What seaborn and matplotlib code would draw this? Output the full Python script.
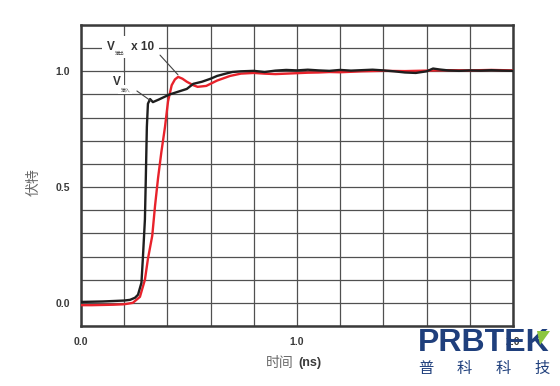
import numpy as np
import pandas as pd
import matplotlib
matplotlib.use("Agg")
import matplotlib.pyplot as plt
import seaborn as sns
from matplotlib.patches import Polygon

# time in ns, amplitude in volts (normalised)
t_in = [0.00, 0.05, 0.10, 0.15, 0.20, 0.227, 0.25, 0.264, 0.28, 0.287, 0.296, 0.30,
        0.305, 0.31, 0.32, 0.333, 0.36, 0.41, 0.45, 0.49, 0.52, 0.56, 0.60, 0.63,
        0.67, 0.70, 0.74, 0.80, 0.85, 0.90, 0.95, 1.00, 1.05, 1.10, 1.15, 1.20,
        1.25, 1.30, 1.35, 1.40, 1.45, 1.50, 1.55, 1.60, 1.63, 1.66, 1.70, 1.75,
        1.80, 1.85, 1.90, 1.95, 2.00]
v_in = [0.004, 0.005, 0.006, 0.008, 0.010, 0.013, 0.022, 0.035, 0.087, 0.20, 0.36, 0.53,
        0.76, 0.86, 0.88, 0.867, 0.878, 0.90, 0.912, 0.924, 0.946, 0.955, 0.968, 0.98,
        0.99, 0.997, 1.0, 1.002, 0.997, 1.003, 1.006, 1.004, 1.007, 1.004, 1.002, 1.006,
        1.003, 1.005, 1.007, 1.004, 1.0, 0.995, 0.993, 1.0, 1.012, 1.008, 1.004, 1.002,
        1.004, 1.003, 1.005, 1.003, 1.002]

t_out = [0.00, 0.05, 0.10, 0.15, 0.20, 0.24, 0.273, 0.296, 0.31, 0.33, 0.343, 0.357,
         0.372, 0.389, 0.403, 0.42, 0.435, 0.45, 0.47, 0.49, 0.52, 0.54, 0.58, 0.63,
         0.69, 0.74, 0.80, 0.85, 0.90, 0.95, 1.00, 1.05, 1.10, 1.15, 1.20, 1.25,
         1.30, 1.40, 1.50, 1.60, 1.70, 1.80, 1.90, 2.00]
v_out = [-0.010, -0.010, -0.009, -0.008, -0.006, 0.0, 0.026, 0.10, 0.19, 0.29, 0.42, 0.54,
         0.65, 0.76, 0.87, 0.94, 0.965, 0.976, 0.968, 0.955, 0.94, 0.933, 0.937, 0.96,
         0.98, 0.99, 0.993, 0.99, 0.988, 0.99, 0.992, 0.994, 0.995, 0.997, 0.996, 0.998,
         1.0, 1.002, 1.001, 1.003, 1.005, 1.004, 1.006, 1.004]

x_labels = {0.0: "0.0", 1.0: "1.0", 2.0: "2.0"}
y_labels = {0.0: "0.0", 0.5: "0.5", 1.0: "1.0"}
logo_chars = ["普", "科", "科", "技"]

sns.set_style("white")
plt.rcParams['font.family'] = ['Liberation Sans', 'Noto Sans CJK SC', 'DejaVu Sans']

fig = plt.figure(figsize=(5.6, 3.86), dpi=100)
ax = fig.add_axes([0.1446, 0.1554, 0.7714, 0.7798])

df_in = pd.DataFrame({"t": t_in, "v": v_in})
df_out = pd.DataFrame({"t": t_out, "v": v_out})
sns.lineplot(data=df_out, x="t", y="v", color="#e8222b", lw=1.7, ax=ax, zorder=3)
sns.lineplot(data=df_in, x="t", y="v", color="#1e1e1e", lw=1.7, ax=ax, zorder=4)

ax.set_xlim(0, 2.0)
ax.set_ylim(-0.1, 1.2)
xt = np.round(np.arange(0, 2.01, 0.2), 1)
yt = np.round(np.arange(-0.1, 1.21, 0.1), 1)
ax.set_xticks(xt)
ax.set_yticks(yt)
ax.set_xticklabels([x_labels.get(v, "") for v in xt])
ax.set_yticklabels([y_labels.get(v, "") for v in yt])
ax.tick_params(length=0, labelsize=7.5, labelcolor="#3a3a3a", pad=8)
for lab in ax.get_xticklabels() + ax.get_yticklabels():
    lab.set_fontweight("bold")
ax.grid(True, color="#505050", lw=0.9)
for s in ax.spines.values():
    s.set_color("#3a3a3a")
    s.set_linewidth(1.8)

ax.set_xlabel("")
ax.set_ylabel("")
fig.text(34 / 560, 1 - 182 / 386, "伏特", family=['Noto Sans CJK SC'], color="#6a6a6a",
         fontsize=10, rotation=90, ha="center", va="center")

# annotations
ax.text(0.12, 1.105, "V     x 10", fontsize=8.5, fontweight="bold", color="#333333",
        ha="left", va="center", zorder=6,
        bbox=dict(facecolor="white", edgecolor="none", pad=3.5))
ax.text(0.155, 1.075, "输出", family=['Noto Sans CJK SC'], fontsize=3.5, color="#555555",
        ha="left", va="center", zorder=7)
ax.plot([0.366, 0.449], [1.07, 0.985], color="#444444", lw=0.8, zorder=6)

ax.text(0.148, 0.955, "V", fontsize=8.5, fontweight="bold", color="#333333",
        ha="left", va="center", zorder=6,
        bbox=dict(facecolor="white", edgecolor="none", pad=2))
ax.text(0.183, 0.92, "输入", family=['Noto Sans CJK SC'], fontsize=3.5, color="#555555",
        ha="left", va="center", zorder=7,
        bbox=dict(facecolor="white", edgecolor="none", pad=1.5))
ax.plot([0.259, 0.324], [0.915, 0.872], color="#444444", lw=0.8, zorder=6)

# x axis title
fig.text(0.525, 0.06, "时间", family=['Noto Sans CJK SC'], color="#6a6a6a", fontsize=10,
         ha="right", va="center")
fig.text(0.532, 0.06, "(ns)", color="#3a3a3a", fontsize=9, fontweight="bold",
         ha="left", va="center")

# logo
fig.text(418 / 560, 1 - 343 / 386, "PRBTEK", color="#1f3f7c", fontsize=23,
         fontweight="bold", ha="left", va="center", zorder=10)
for i, ch in enumerate(logo_chars):
    fig.text((426 + i * 38.7) / 560, 1 - 368 / 386, ch, family=['Noto Sans CJK SC'],
             color="#1f3f7c", fontsize=11, ha="center", va="center", zorder=10)
fig.patches.append(Polygon([[537 / 560, 1 - 331 / 386], [550 / 560, 1 - 331 / 386],
                            [540 / 560, 1 - 345 / 386]],
                           closed=True, transform=fig.transFigure, facecolor="#8cc63f",
                           edgecolor="none", zorder=11))

fig.savefig("out.png", dpi=100, facecolor="white")
